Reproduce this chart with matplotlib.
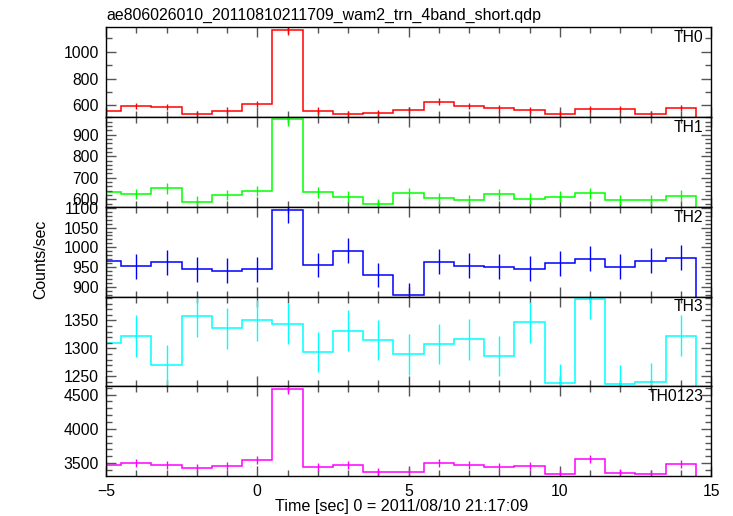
import matplotlib
matplotlib.use("Agg")
import matplotlib.pyplot as plt
from matplotlib.ticker import MultipleLocator

plt.rcParams['font.family'] = ['Liberation Sans', 'DejaVu Sans']

# bin centres [sec], 1 s bins
times = [-5, -4, -3, -2, -1, 0, 1, 2, 3, 4, 5, 6, 7, 8, 9, 10, 11, 12, 13, 14]

th0 = [558, 595, 590, 534, 561, 610, 1159, 561, 537, 544,
       568, 627, 595, 578, 566, 537, 573, 573, 537, 580]
th0_err = [24, 24, 24, 23, 24, 25, 34, 24, 23, 23,
           24, 25, 24, 24, 24, 23, 24, 24, 23, 24]

th1 = [635, 624, 651, 589, 620, 638, 971, 632, 612, 578,
       628, 605, 597, 623, 602, 612, 628, 597, 597, 617]
th1_err = [25, 25, 26, 24, 25, 25, 31, 25, 25, 24,
           25, 25, 24, 25, 25, 25, 25, 24, 24, 25]

th2 = [965, 953, 963, 945, 942, 945, 1095, 956, 992, 930,
       882, 964, 954, 952, 947, 960, 972, 952, 967, 974]
th2_err = [31, 31, 31, 31, 31, 31, 33, 31, 31, 30,
           30, 31, 31, 31, 31, 31, 31, 31, 31, 31]

th3 = [1310, 1322, 1270, 1358, 1336, 1350, 1344, 1294, 1332, 1315,
       1289, 1308, 1316, 1287, 1347, 1237, 1389, 1236, 1239, 1323]
th3_err = [36, 37, 36, 37, 37, 37, 37, 36, 37, 36,
           36, 36, 36, 36, 37, 35, 37, 35, 35, 36]

th0123 = [3471, 3495, 3476, 3422, 3451, 3544, 4577, 3437, 3466, 3364,
          3374, 3500, 3466, 3437, 3456, 3345, 3558, 3354, 3335, 3490]
th0123_err = [59, 59, 59, 58, 59, 60, 68, 59, 59, 58,
              58, 59, 59, 59, 59, 58, 60, 58, 58, 59]

names = ["TH0", "TH1", "TH2", "TH3", "TH0123"]
series = [th0, th1, th2, th3, th0123]
errors = [th0_err, th1_err, th2_err, th3_err, th0123_err]
colors = ["#ff0000", "#00ff00", "#0000ff", "#00ffff", "#ff00ff"]
ylims = [(514, 1180), (565, 982), (877, 1102), (1232, 1393), (3311, 4621)]
steps = [(200, 100), (100, 20), (50, 10), (50, 10), (500, 100)]

edges = [t - 0.5 for t in times] + [times[-1] + 0.5]

fig, axs = plt.subplots(5, 1, sharex=True, figsize=(7.33, 5.16), dpi=100)
plt.subplots_adjust(left=106/733, right=711/733, top=1-27.3/516, bottom=1-476/516, hspace=0)

for ax, name, vals, errs, col, lim, (maj, mnr) in zip(axs, names, series, errors, colors, ylims, steps):
    ax.stairs(vals, edges, color=col, lw=1.1)
    ax.errorbar(times, vals, yerr=errs, fmt='none', ecolor=col, elinewidth=1.0)
    ax.set_xlim(-5, 15)
    ax.set_ylim(*lim)
    ax.yaxis.set_major_locator(MultipleLocator(maj))
    ax.yaxis.set_minor_locator(MultipleLocator(mnr))
    ax.xaxis.set_major_locator(MultipleLocator(5))
    ax.xaxis.set_minor_locator(MultipleLocator(1))
    ax.tick_params(which='both', direction='in', top=True, right=True,
                   color='#555555', width=1, labelsize=11.3, pad=5)
    ax.tick_params(which='major', length=7)
    ax.tick_params(which='minor', length=4)
    for sp in ax.spines.values():
        sp.set_linewidth(1.0)
    ax.text(0.987, 0.885, name, transform=ax.transAxes, ha='right', va='center', fontsize=11.3)

axs[-1].tick_params(axis='x', pad=6)

fig.text(106/733, 1-15/516, "ae806026010_20110810211709_wam2_trn_4band_short.qdp",
         ha='left', va='center', fontsize=11.4)
fig.text(41/733, 1-259/516, "Counts/sec", rotation=90, ha='center', va='center', fontsize=11.4)
fig.text(402/733, 1-506/516, "Time [sec] 0 = 2011/08/10 21:17:09", ha='center', va='center', fontsize=11.6)

plt.savefig("out.png", dpi=100)
